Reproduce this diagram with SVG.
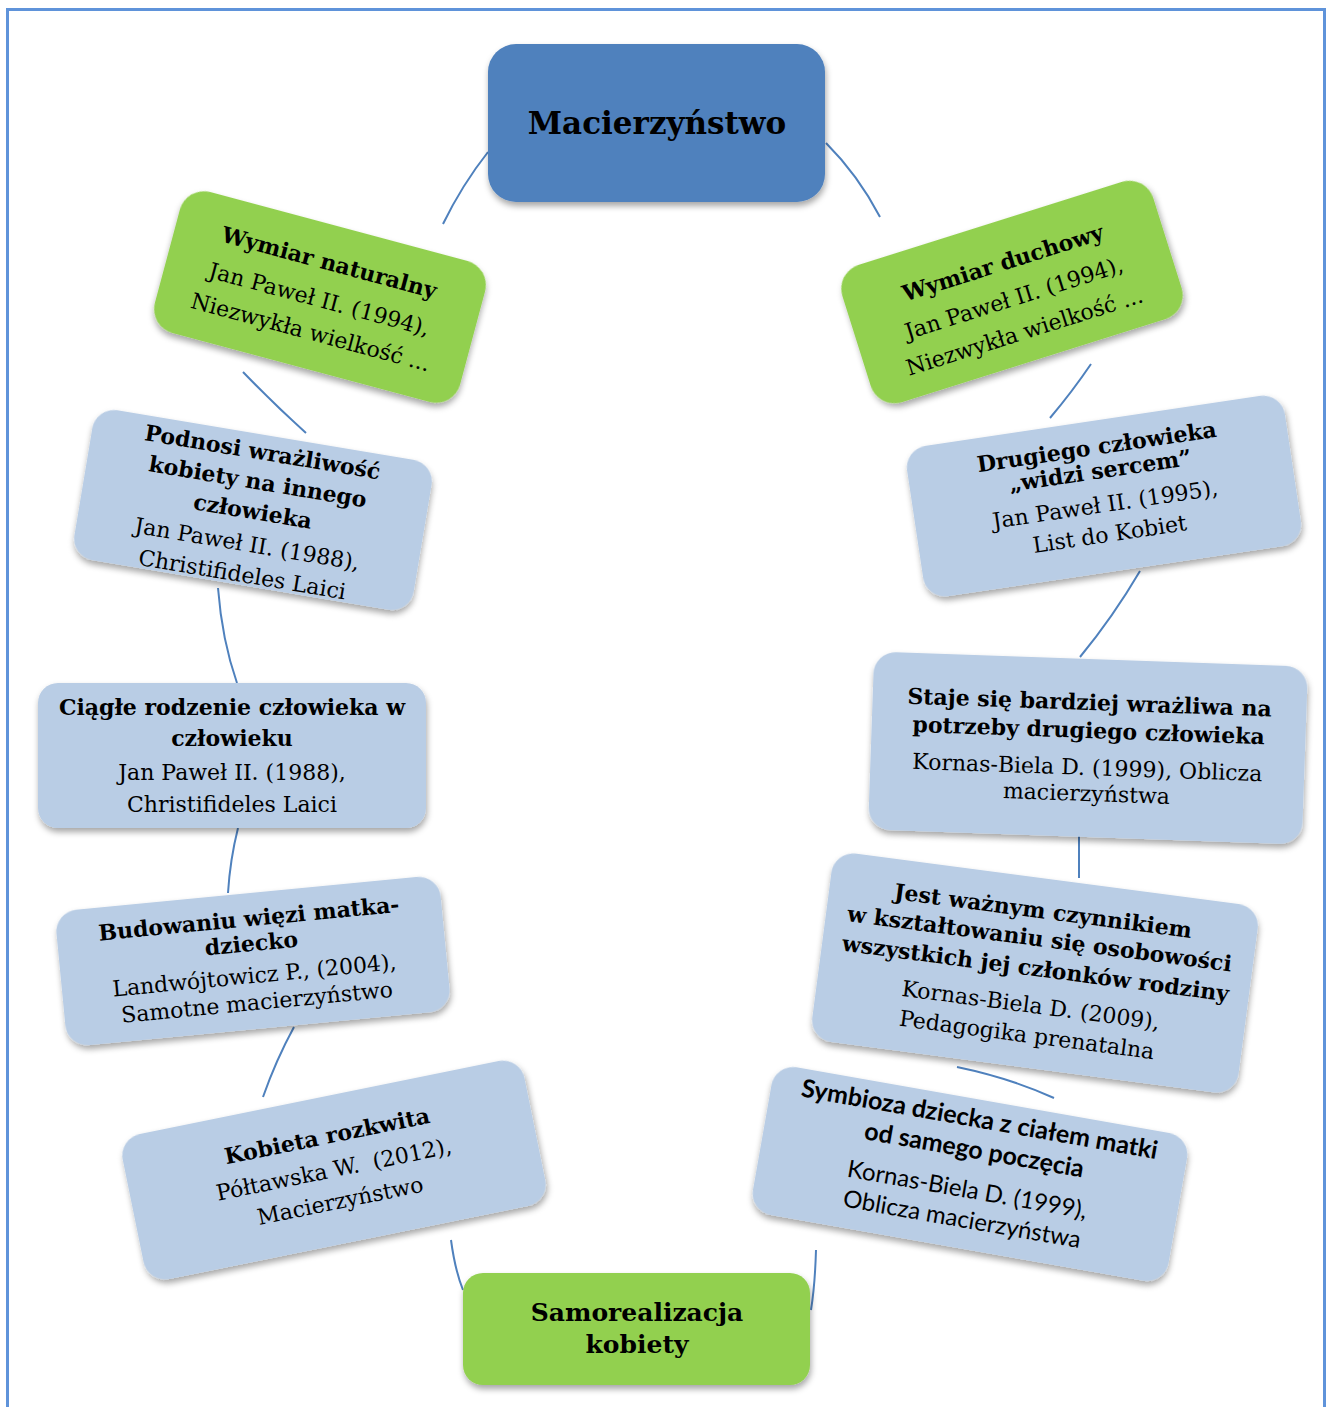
<svg xmlns="http://www.w3.org/2000/svg" width="1330" height="1407" viewBox="0 0 1330 1407">
  <defs>
    <filter id="shadow" x="-10%" y="-15%" width="125%" height="140%">
      <feDropShadow dx="1" dy="4" stdDeviation="3" flood-color="#000" flood-opacity="0.35"/>
    </filter>
  </defs>
  <style>
    .frame { fill: none; stroke: #5f93da; stroke-width: 3; }
    .link { fill: none; stroke: #4f81bd; stroke-width: 2; }
    .root { fill: #4f81bd; filter: url(#shadow); }
    .green { fill: #92d050; filter: url(#shadow); }
    .blue { fill: #b9cde5; filter: url(#shadow); }
    text { font-family: "DejaVu Serif", "Liberation Serif", serif; fill: #000; text-anchor: middle; font-size: 22px; }
    .b { font-weight: bold; }
    .sans { font-family: Lato, "Open Sans", "Liberation Sans", sans-serif; font-size: 24px; }
    .pre { white-space: pre; }
  </style>

  <rect class="frame" x="7.5" y="9.5" width="1317" height="1420"/>

  <g id="connectors">
    <path class="link" d="M488,152 Q462,185 443,224"/>
    <path class="link" d="M826,143 Q858,175 880,217"/>
    <path class="link" d="M243,372 Q275,405 306,433"/>
    <path class="link" d="M1091,364 Q1072,392 1050,418"/>
    <path class="link" d="M218,588 Q222,640 237,683"/>
    <path class="link" d="M1140,571 Q1113,617 1080,657"/>
    <path class="link" d="M238,828 Q230,860 228,893"/>
    <path class="link" d="M1079,835 L1079,878"/>
    <path class="link" d="M294,1027 Q276,1060 263,1097"/>
    <path class="link" d="M957,1067 Q1010,1078 1054,1098"/>
    <path class="link" d="M451,1240 Q455,1270 463,1290"/>
    <path class="link" d="M816,1250 Q815,1285 811,1310"/>
  </g>

  <g id="macierzynstwo">
    <rect class="root" x="488" y="44" width="337" height="158" rx="28"/>
    <text class="b" x="657" y="134" style="font-size:31px">Macierzyństwo</text>
  </g>

  <g id="wymiar-naturalny" transform="translate(320,297) rotate(15)">
    <rect class="green" x="-158" y="-73" width="316" height="146" rx="25"/>
    <text class="b" x="0" y="-28">Wymiar naturalny</text>
    <text x="0" y="10">Jan Paweł II. (1994),</text>
    <text x="0" y="44">Niezwykła wielkość ...</text>
  </g>

  <g id="wymiar-duchowy" transform="translate(1012,292) rotate(-17.5)">
    <rect class="green" x="-163" y="-72" width="326" height="144" rx="25"/>
    <text class="b" x="0" y="-23">Wymiar duchowy</text>
    <text x="0" y="14">Jan Paweł II. (1994),</text>
    <text x="0" y="49">Niezwykła wielkość ...</text>
  </g>

  <g id="podnosi" transform="translate(253,510) rotate(9.5)">
    <rect class="blue" x="-172" y="-76" width="344" height="152" rx="22"/>
    <text class="b" x="0" y="-51">Podnosi wrażliwość</text>
    <text class="b" x="0" y="-21">kobiety na innego</text>
    <text class="b" x="0" y="9">człowieka</text>
    <text x="0" y="42">Jan Paweł II. (1988),</text>
    <text x="0" y="73">Christifideles Laici</text>
  </g>

  <g id="drugiego" transform="translate(1104,496) rotate(-8.5)">
    <rect class="blue" x="-191" y="-76" width="382" height="152" rx="22"/>
    <text class="b" x="0" y="-42">Drugiego człowieka</text>
    <text class="b" x="0" y="-18">„widzi sercem”</text>
    <text x="0" y="16">Jan Paweł II. (1995),</text>
    <text x="0" y="46">List do Kobiet</text>
  </g>

  <g id="ciagle">
    <rect class="blue" x="38" y="683" width="388" height="145" rx="20"/>
    <text class="b" x="232" y="715">Ciągłe rodzenie człowieka w</text>
    <text class="b" x="232" y="746">człowieku</text>
    <text x="232" y="780">Jan Paweł II. (1988),</text>
    <text x="232" y="812">Christifideles Laici</text>
  </g>

  <g id="staje" transform="translate(1088,748) rotate(2)">
    <rect class="blue" x="-217" y="-89" width="434" height="178" rx="22"/>
    <text class="b" x="0" y="-38">Staje się bardziej wrażliwa na</text>
    <text class="b" x="0" y="-10">potrzeby drugiego człowieka</text>
    <text x="0" y="27">Kornas-Biela D. (1999), Oblicza</text>
    <text x="0" y="53">macierzyństwa</text>
  </g>

  <g id="budowaniu" transform="translate(253,961) rotate(-5.5)">
    <rect class="blue" x="-193" y="-68" width="386" height="136" rx="22"/>
    <text class="b" x="0" y="-35">Budowaniu więzi matka-</text>
    <text class="b" x="0" y="-10">dziecko</text>
    <text x="0" y="22">Landwójtowicz P., (2004),</text>
    <text x="0" y="49">Samotne macierzyństwo</text>
  </g>

  <g id="jest-waznym" transform="translate(1035,973) rotate(7.5)">
    <rect class="blue" x="-215" y="-95" width="430" height="190" rx="22"/>
    <text class="b" x="0" y="-55">Jest ważnym czynnikiem</text>
    <text class="b" x="0" y="-27">w kształtowaniu się osobowości</text>
    <text class="b" x="0" y="3">wszystkich jej członków rodziny</text>
    <text x="0" y="40">Kornas-Biela D. (2009),</text>
    <text x="0" y="70">Pedagogika prenatalna</text>
  </g>

  <g id="kobieta-rozkwita" transform="translate(334,1170) rotate(-11.5)">
    <rect class="blue" x="-205" y="-74" width="410" height="148" rx="22"/>
    <text class="b" x="0" y="-27">Kobieta rozkwita</text>
    <text class="pre" x="0" y="7">Półtawska W.  (2012),</text>
    <text x="0" y="39">Macierzyństwo</text>
  </g>

  <g id="symbioza" transform="translate(970,1174) rotate(10)">
    <rect class="blue" x="-211" y="-75" width="422" height="150" rx="22"/>
    <text class="b sans" x="0" y="-47" style="font-size:25px">Symbioza dziecka z ciałem matki</text>
    <text class="b sans" x="0" y="-16" style="font-size:25px">od samego poczęcia</text>
    <text class="sans" x="0" y="24">Kornas-Biela D. (1999),</text>
    <text class="sans" x="0" y="54">Oblicza macierzyństwa</text>
  </g>

  <g id="samorealizacja">
    <rect class="green" x="463" y="1273" width="347" height="112" rx="20"/>
    <text class="b" x="637" y="1321" style="font-size:25px">Samorealizacja</text>
    <text class="b" x="637" y="1353" style="font-size:25px">kobiety</text>
  </g>
</svg>
